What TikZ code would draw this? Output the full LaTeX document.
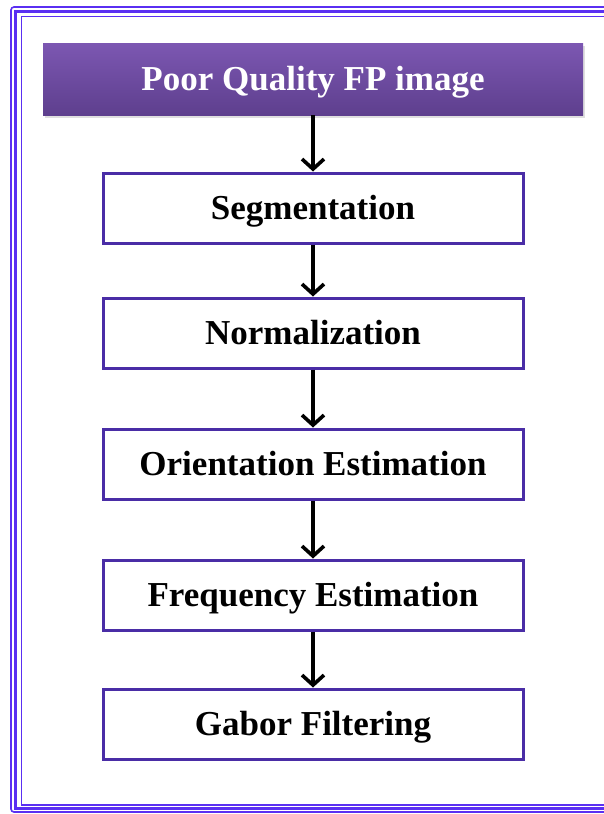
\documentclass[tikz,border=0pt]{standalone}
\usepackage{fontspec}
\setmainfont{Liberation Serif}
\usetikzlibrary{arrows.meta,shadows}

\definecolor{framecol}{HTML}{5A2FF2}
\definecolor{boxcol}{HTML}{4A2DA6}
\definecolor{topcol}{HTML}{7C57B2}
\definecolor{botcol}{HTML}{5E3F8E}

\begin{document}
\begin{tikzpicture}[x=1pt,y=-1pt,
  labeltext/.style={font=\fontsize{35}{40}\selectfont\bfseries,
    text height=22pt, text depth=0pt, inner sep=0pt},
  stagebox/.style={labeltext, draw=boxcol, line width=3pt, fill=white,
    minimum width=420pt, minimum height=70pt},
  headbox/.style={labeltext, top color=topcol, bottom color=botcol, draw=none,
    minimum width=540pt, minimum height=72pt, text=white,
    drop shadow={opacity=0.25, shadow xshift=2pt, shadow yshift=-3pt}},
  flow/.style={line width=3.6pt, black,
    -{Straight Barb[length=10pt, width=22pt, line width=3.6pt]}}]

\useasboundingbox (0,0) rectangle (604,814);
\fill[white] (0,0) rectangle (604,814);

% triple page frame, running off the right edge
\begin{scope}
  \clip (0,0) rectangle (604,814);
  \draw[framecol, line width=1.6pt, rounded corners=3pt] (11,7) rectangle (640,812);
  \draw[framecol, line width=3.5pt] (15.5,11.5) rectangle (640,808.5);
  \draw[framecol, line width=1.6pt] (21.5,16.5) rectangle (640,805);
\end{scope}

% process stages
\node[headbox]  (input)  at (313,79)  {Poor Quality FP image};
\node[stagebox] (seg)    at (313,208) {Segmentation};
\node[stagebox] (norm)   at (313,333) {Normalization};
\node[stagebox] (orient) at (313,464) {Orientation Estimation};
\node[stagebox] (freq)   at (313,595) {Frequency Estimation};
\node[stagebox] (gabor)  at (313,724) {Gabor Filtering};

% connectors
\draw[flow] (input.south) -- (seg.north);
\draw[flow] (seg.south)   -- (norm.north);
\draw[flow] (norm.south)  -- (orient.north);
\draw[flow] (orient.south)-- (freq.north);
\draw[flow] (freq.south)  -- (gabor.north);

\end{tikzpicture}
\end{document}
